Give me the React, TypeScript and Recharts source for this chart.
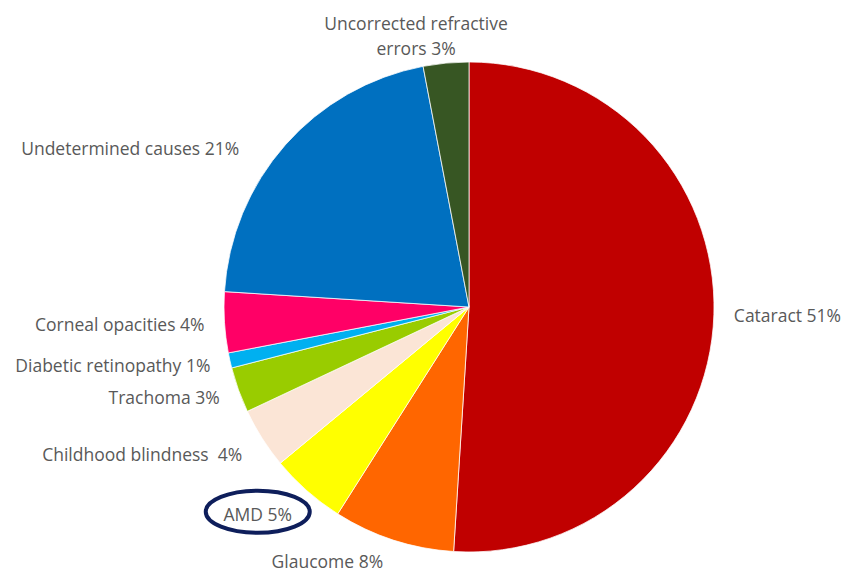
import React from "react";
import { PieChart, Pie, Cell } from "recharts";

const causes = [
  "Cataract",
  "Glaucome",
  "AMD",
  "Childhood blindness",
  "Trachoma",
  "Diabetic retinopathy",
  "Corneal opacities",
  "Undetermined causes",
  "Uncorrected refractive errors",
];
const shares = [51, 8, 5, 4, 3, 1, 4, 21, 3];
const colors = [
  "#C00000",
  "#FF6600",
  "#FFFF00",
  "#FBE5D6",
  "#99CC00",
  "#00B0F0",
  "#FF0066",
  "#0070C0",
  "#375623",
];

const data = causes.map((name, i) => ({ name, value: shares[i] }));

const RADIAN = Math.PI / 180;

const renderLabel = (props: any) => {
  const { cx, cy, midAngle, outerRadius, index } = props;
  const name = causes[index];
  const value = shares[index];
  const r = outerRadius + 20;
  let x = cx + r * Math.cos(-midAngle * RADIAN);
  let y = cy + r * Math.sin(-midAngle * RADIAN);
  const common = {
    fill: "#595959",
    fontSize: 17.5,
    fontFamily: "'Open Sans', sans-serif",
    style: { whiteSpace: "pre" as const },
  };

  if (name === "Uncorrected refractive errors") {
    x -= 28;
    y -= 1;
    return (
      <text x={x} y={y} textAnchor="middle" {...common}>
        <tspan x={x} dy={-12}>Uncorrected refractive</tspan>
        <tspan x={x} dy={25}>{`errors ${value}%`}</tspan>
      </text>
    );
  }
  if (name === "Undetermined causes") {
    x -= 31;
    y += 16;
  }
  if (name === "Glaucome") {
    x -= 4;
    y += 2;
  }
  if (name === "Childhood blindness") {
    x -= 3;
    y += 5;
  }
  const anchor = x < cx - 5 ? "end" : x > cx + 5 ? "start" : "middle";
  const label =
    name === "Childhood blindness" ? `${name}  ${value}%` : `${name} ${value}%`;
  if (name === "AMD") {
    const tx = x - 36;
    const ty = y + 8;
    return (
      <g>
        <ellipse
          cx={tx}
          cy={ty - 2}
          rx={52}
          ry={21}
          fill="none"
          stroke="#0E1E5B"
          strokeWidth={4}
        />
        <text x={tx} y={ty} textAnchor="middle" dominantBaseline="central" {...common}>
          {label}
        </text>
      </g>
    );
  }
  return (
    <text x={x} y={y} textAnchor={anchor} dominantBaseline="central" {...common}>
      {label}
    </text>
  );
};

export default function App() {
  return (
    <div style={{ position: "absolute", left: 0, top: 0, background: "#fff" }}>
      <PieChart width={843} height={574} margin={{ top: 0, right: 0, bottom: 0, left: 0 }}>
        <Pie
          data={data}
          dataKey="value"
          nameKey="name"
          cx={469}
          cy={307}
          outerRadius={245}
          startAngle={90}
          endAngle={-270}
          stroke="#ffffff"
          strokeWidth={0.75}
          label={renderLabel}
          labelLine={false}
          isAnimationActive={false}
        >
          {data.map((d, i) => (
            <Cell key={d.name} fill={colors[i]} />
          ))}
        </Pie>
      </PieChart>
    </div>
  );
}
